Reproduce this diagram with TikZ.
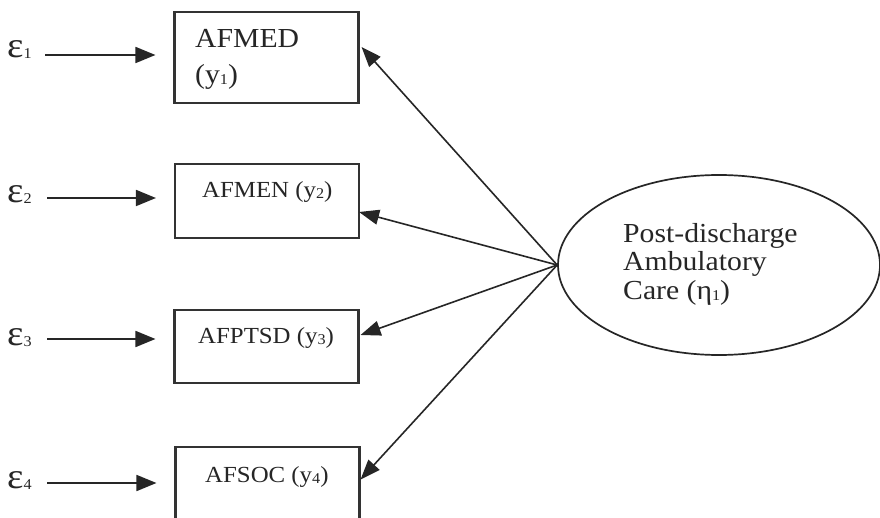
\documentclass[tikz,border=0pt]{standalone}
\usepackage{fontspec}
\setmainfont[FakeStretch=1.08]{Liberation Serif}
\usetikzlibrary{shapes.geometric,arrows.meta}

% small digit used for the indices
\newcommand\idx[1]{\raisebox{-1pt}{\fontsize{15}{15}\selectfont #1}}
\newcommand\bigtxt{\fontsize{27.5}{29}\selectfont}
\newcommand\midtxt{\fontsize{23}{25}\selectfont}

\begin{document}
\begin{tikzpicture}[x=1pt,y=-1pt,
  obs/.style={draw=black!80, line width=2.1pt, minimum width=184pt, inner sep=0pt},
  lab/.style={anchor=base west, inner sep=0pt, text=black!85},
  errlab/.style={anchor=base west, inner sep=0pt, text=black!85, font=\fontsize{36}{36}\selectfont},
  load/.style={draw=black!85, line width=1.6pt, -{Triangle[length=20pt,width=15pt]}},
  hlink/.style={draw=black!85, line width=1.8pt, shorten >=18pt, -{Triangle[length=20pt,width=16pt]}}]

\clip (0,0) rectangle (880,518);
\fill[white] (0,0) rectangle (880,518);

% indicator boxes
\node[obs, minimum height=91pt] (b1) at (266.5,57.5) {};
\node[obs, minimum height=74pt] (b2) at (267,201) {};
\node[obs, minimum height=73pt] (b3) at (266.5,346.5) {};
\node[obs, minimum height=80pt] (b4) at (267.5,487) {};

% box texts
\node[lab, font=\bigtxt] (t1a) at (195,48) {AFMED};
\node[lab, font=\bigtxt] (t1b) at (195,84) {(y\idx{1})};
\node[lab, font=\midtxt] (t2) at (202,198) {AFMEN (y\idx{2})};
\node[lab, font=\midtxt] (t3) at (198,343) {AFPTSD (y\idx{3})};
\node[lab, font=\midtxt] (t4) at (205,482) {AFSOC (y\idx{4})};

% latent construct
\node[ellipse, draw=black!85, line width=1.7pt, minimum width=322pt, minimum height=180pt, inner sep=0pt] (lat) at (719,265) {};
\node[lab, font=\bigtxt] (l1) at (623,243) {Post-discharge};
\node[lab, font=\bigtxt] (l2) at (623,271) {Ambulatory};
\node[lab, font=\bigtxt] (l3) at (623,300) {Care (η\idx{1})};

% error terms
\node[errlab] (e1) at (7,58) {ε\idx{1}};
\node[errlab] (e2) at (7,203) {ε\idx{2}};
\node[errlab] (e3) at (7,345) {ε\idx{3}};
\node[errlab] (e4) at (7,488) {ε\idx{4}};

\coordinate (s1) at ([xshift=38pt,yshift=3pt]e1.base west);
\coordinate (s2) at ([xshift=40pt,yshift=5pt]e2.base west);
\coordinate (s3) at ([xshift=40pt,yshift=6pt]e3.base west);
\coordinate (s4) at ([xshift=40pt,yshift=5pt]e4.base west);

\draw[hlink] (s1) -- (s1 -| b1.west);
\draw[hlink] (s2) -- (s2 -| b2.west);
\draw[hlink] (s3) -- (s3 -| b3.west);
\draw[hlink] (s4) -- (s4 -| b4.west);

% factor loadings
\draw[load] (lat.west) -- ([xshift=2pt,yshift=10.5pt]b1.east);
\draw[load] (lat.west) -- ([xshift=-1pt,yshift=-11pt]b2.east);
\draw[load] (lat.west) -- ([xshift=1pt,yshift=11.5pt]b3.east);
\draw[load] (lat.west) -- ([xshift=0pt,yshift=7.5pt]b4.east);
\end{tikzpicture}
\end{document}
